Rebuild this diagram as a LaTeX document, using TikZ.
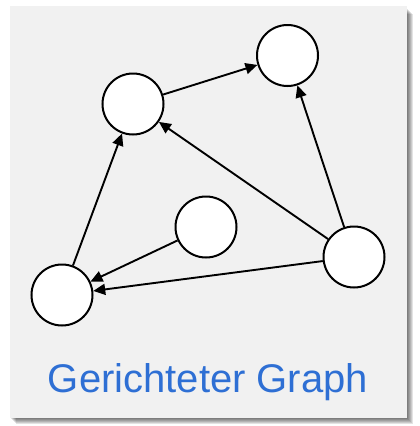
\documentclass[tikz,border=0pt]{standalone}
\usepackage{fontspec}
\setmainfont{Liberation Sans}
\usetikzlibrary{arrows.meta}
\definecolor{boxfill}{HTML}{F1F1F1}
\definecolor{titleblue}{HTML}{2E6FD4}
\tikzset{
  vertex/.style={circle, draw=black, fill=white, line width=2pt, minimum size=61pt, inner sep=0pt},
  edge/.style={-{Triangle[length=12pt,width=11pt]}, line width=1.9pt, black},
}
\begin{document}
\begin{tikzpicture}[x=1pt,y=-1pt]
\useasboundingbox (0,0) rectangle (420,426);
\fill[white] (0,0) rectangle (420,426);
% shadow
\foreach \o in {1,2,3,4,5,6}{
  \fill[black, opacity=0.11] (10+\o,8+\o) rectangle (407+\o,418+\o);
}
\fill[boxfill] (10,6) rectangle (407,418);
\node[vertex] (A) at (133,104) {};
\node[vertex] (B) at (287.5,55.5) {};
\node[vertex] (C) at (206,227) {};
\node[vertex] (D) at (62,295) {};
\node[vertex] (E) at (354,257) {};
\draw[edge] (A) -- (B);
\draw[edge] (E) -- (A);
\draw[edge] (E) -- (B);
\draw[edge] (C) -- (D);
\draw[edge] (E) -- (D);
\draw[edge] (D) -- (A);
\node[text=titleblue, font=\fontsize{40pt}{48pt}\selectfont, anchor=base] (T) at (208,392) {Gerichteter Graph};
\end{tikzpicture}
\end{document}
